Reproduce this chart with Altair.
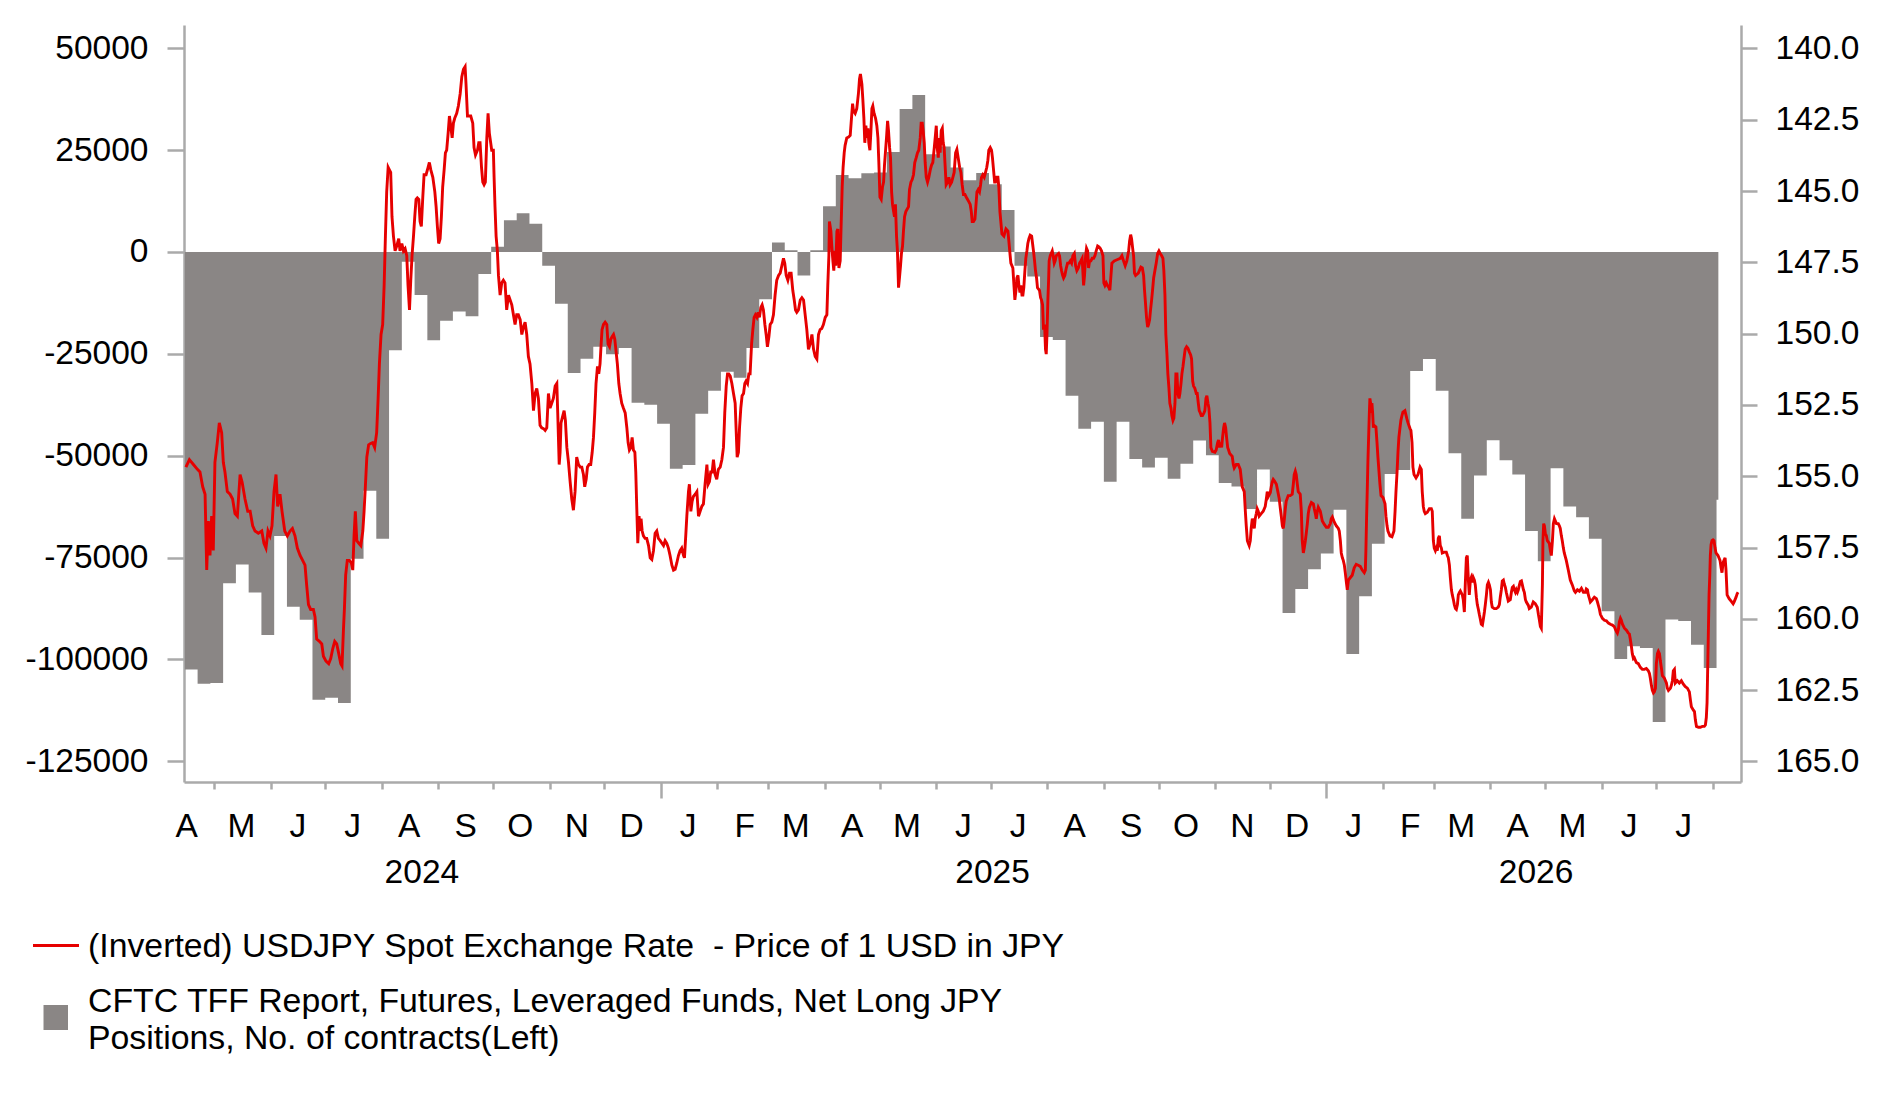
import altair as alt
import pandas as pd

# ---------------- data ----------------
# USDJPY spot; day offsets from 2024-05-01
fx_day = [
-15.4,-13.5,-11.3,-9.1,-7.7,-6.2,-4.9,-4.0,-3.1,-2.2,-1.3,-0.4,0.5,1.8,2.9,4.2,5.1,6.0,7.3,8.8,10.2,11.5,12.8,14.3,15.4,17.0,18.5,19.8,21.2,22.5,24.3,26.2,27.4,28.5,29.6,30.7,31.8,32.9,34.0,34.9,36.2,37.3,38.8,40.2,41.7,43.0,44.4,45.7,47.2,48.6,49.9,50.8,51.8,53.0,54.5,55.4,56.3,57.8,59.1,60.0,61.4,62.9,64.0,65.1,66.2,67.3,68.4,69.5,70.2,71.0,71.5,72.2,73.1,74.2,75.3,76.1,76.8,77.5,78.3,79.4,80.5,81.6,82.3,83.0,83.8,84.8,85.9,87.0,88.1,89.2,90.0,90.7,91.6,92.5,93.3,94.0,94.7,95.5,96.2,96.9,97.6,98.4,99.3,100.2,101.3,102.0,103.0,103.9,104.8,105.7,106.4,107.2,107.9,108.6,109.4,110.1,110.8,111.5,112.3,113.0,113.7,114.5,115.2,116.3,117.4,118.1,118.9,120.0,121.1,121.8,122.5,123.2,124.0,124.7,125.4,126.2,126.9,127.6,128.4,129.1,129.8,130.6,131.3,132.0,133.1,134.0,135.0,135.9,136.8,137.7,138.2,139.0,139.7,140.8,141.9,142.6,143.4,144.5,145.2,145.9,146.7,147.4,148.1,148.8,149.6,150.3,151.0,
152.3,153.2,153.6,154.1,154.7,155.4,156.0,156.9,157.8,158.7,159.6,160.5,161.5,162.4,163.3,164.2,165.1,166.0,166.9,167.9,168.8,169.7,170.6,171.5,172.4,173.3,174.3,175.2,176.1,177.0,177.9,178.8,179.7,180.7,181.6,182.5,183.4,184.3,185.2,186.1,187.1,188.0,188.5,189.3,189.8,190.3,191.3,192.0,192.7,193.5,194.4,195.3,196.2,197.1,198.0,198.9,199.9,200.8,201.7,202.6,203.3,204.1,204.8,205.7,206.6,207.4,208.1,208.8,209.5,210.3,211.0,211.7,212.3,212.8,213.6,214.5,215.4,216.1,216.9,217.6,218.3,219.1,219.8,220.5,221.2,222.0,222.7,223.6,224.5,225.5,226.4,227.1,227.8,228.6,229.3,230.0,230.8,231.3,231.9,232.4,233.1,233.7,234.2,234.8,235.5,236.4,237.3,238.3,239.2,240.1,241.0,241.9,242.8,243.7,244.7,245.6,246.5,247.4,248.3,249.2,250.1,251.1,252.0,252.9,253.8,254.7,255.6,256.5,257.5,258.0,258.7,259.3,260.2,260.7,261.5,262.2,262.9,263.9,264.8,265.7,266.6,267.5,268.4,269.3,270.3,271.0,271.7,272.4,273.2,273.9,274.8,275.7,276.6,277.6,278.5,279.4,280.1,280.9,281.6,282.3,283.1,284.0,284.9,285.8,286.3,286.9,287.6,288.2,288.9,289.6,290.4,291.1,291.8,292.6,293.3,294.0,294.8,295.5,296.2,296.9,297.7,298.4,299.1,299.9,300.6,301.3,302.1,302.8,303.5,304.3,305.0,305.9,306.8,307.7,308.6,309.6,310.5,311.4,312.3,313.0,313.8,314.7,315.6,316.5,317.4,318.2,318.9,319.6,320.5,321.5,322.4,323.3,324.2,325.1,326.0,
326.9,327.9,328.8,329.7,330.6,331.5,332.4,333.3,334.2,335.2,336.1,336.6,337.2,337.5,338.3,338.8,339.4,339.9,340.5,341.0,341.6,342.1,342.7,343.4,343.9,344.5,345.0,345.6,346.1,347.0,348.0,348.9,349.4,350.2,350.7,351.6,352.5,353.4,354.0,354.5,355.3,355.8,356.4,356.9,357.5,358.0,358.6,359.1,359.7,360.2,360.8,361.3,362.0,362.8,363.5,364.1,364.6,365.2,365.9,366.6,367.2,367.7,368.3,368.8,369.4,369.9,370.5,371.0,371.6,372.1,372.7,373.2,373.7,374.3,374.8,375.4,375.9,376.5,377.0,377.6,378.1,378.7,379.4,380.1,380.9,381.4,382.2,382.9,383.6,384.3,385.1,385.8,386.5,387.3,387.8,388.4,388.9,389.5,390.0,390.6,391.3,392.0,392.8,393.5,394.2,395.0,395.5,396.1,396.6,397.2,397.7,398.2,398.8,399.4,399.9,400.4,401.0,401.5,402.3,403.0,403.7,404.5,405.2,405.9,406.7,407.4,408.1,408.9,409.6,410.3,411.0,411.8,412.5,413.2,414.0,414.7,415.3,415.8,416.5,417.3,417.8,418.4,419.1,419.8,420.4,420.9,421.6,422.4,423.1,423.8,424.4,424.9,425.7,426.4,426.9,427.5,428.1,428.6,429.3,429.9,430.4,431.0,431.5,432.1,433.2,434.3,435.4,435.9,436.5,437.0,438.1,438.7,439.2,439.8,440.3,440.9,441.4,442.0,442.5,443.1,443.6,444.1,444.7,445.2,445.8,446.3,446.9,447.6,448.4,448.9,449.4,450.0,450.5,451.1,451.6,452.7,453.3,453.8,454.4,454.9,455.5,456.0,456.4,456.8,457.3,457.7,458.0,458.6,459.1,459.7,460.2,460.8,461.3,461.9,462.4,463.2,463.7,464.3,464.8,465.4,465.9,466.6,467.4,468.1,468.8,469.6,470.3,471.0,471.8,472.5,473.2,474.0,474.7,475.4,476.1,476.9,477.4,478.0,478.5,479.1,479.6,480.2,480.9,481.6,482.4,483.1,483.8,484.6,485.3,486.0,486.7,487.5,488.0,488.6,489.3,490.0,490.8,491.3,
492.4,493.7,495.2,497.0,497.9,498.8,499.7,500.6,501.6,502.1,502.7,503.2,503.8,504.3,504.8,505.4,506.9,508.3,509.1,509.8,510.3,510.9,511.4,512.0,512.5,513.1,513.6,514.2,514.7,515.3,516.0,516.7,517.5,518.2,518.9,519.7,520.4,520.9,521.5,522.0,522.6,523.1,523.7,524.2,524.8,525.3,525.9,526.4,527.0,527.5,528.1,528.6,529.2,529.7,530.3,530.8,531.4,531.9,532.6,533.4,534.1,534.8,535.6,536.1,536.7,537.2,537.9,538.7,539.2,539.8,540.3,540.9,541.4,542.1,542.9,543.4,544.0,544.5,545.1,545.6,546.2,546.7,547.5,548.9,549.6,550.4,550.9,551.5,552.0,552.6,553.1,553.7,554.2,554.8,555.3,555.9,556.4,557.0,558.4,559.0,559.5,560.6,561.7,562.8,563.4,563.9,565.0,565.6,566.1,566.7,567.2,567.7,568.3,568.8,569.4,569.9,570.5,571.0,571.6,572.1,572.7,573.2,574.3,575.4,576.5,577.1,577.6,578.2,579.3,579.8,580.4,580.9,581.5,582.6,583.7,584.2,584.8,585.3,585.9,586.4,587.0,587.5,588.0,589.1,590.2,591.3,591.9,592.4,593.0,593.5,594.1,594.6,595.7,596.3,596.8,597.4,597.9,598.5,599.0,599.6,600.1,600.7,601.8,602.9,603.4,604.0,604.5,605.1,605.6,606.7,607.8,608.9,610.0,611.1,612.2,612.7,613.3,614.4,615.5,616.6,617.1,617.7,618.2,618.8,619.3,619.9,620.4,621.0,621.5,622.1,623.2,624.2,625.3,626.4,627.5,628.6,629.7,630.8,631.4,631.7,632.1,632.5,632.8,633.2,633.6,633.9,634.3,634.7,635.0,635.4,635.8,636.1,637.2,637.8,638.3,638.9,639.4,640.0,641.1,642.2,642.7,643.3,643.8,644.9,646.0,647.1,647.7,648.2,648.8,649.3,649.8,650.4,650.9,651.5,652.0,653.1,654.2,654.8,655.9,656.4,657.0,657.5,658.1,659.2,660.3,660.8,661.4,
662.1,662.6,663.2,663.7,664.3,665.4,666.5,667.6,668.1,668.7,669.2,669.8,670.3,670.9,671.4,672.0,672.5,673.1,673.6,674.7,675.8,676.4,676.9,677.5,678.0,678.6,679.1,679.7,680.2,680.8,681.3,681.9,682.4,683.0,683.5,684.6,685.1,685.7,686.2,686.8,687.3,687.9,688.4,689.0,689.5,690.1,690.6,691.2,691.7,692.3,692.8,693.4,693.9,694.5,695.0,695.6,696.1,696.7,697.2,697.8,698.3,698.9,699.4,700.0,700.5,701.0,702.1,703.2,704.3,704.9,705.4,706.0,706.5,707.1,707.6,708.2,708.7,709.3,709.8,710.9,711.5,712.0,712.6,713.1,713.7,714.2,714.8,715.3,715.9,716.4,717.0,717.5,718.1,718.6,719.2,719.7,720.8,721.3,722.4,723.5,724.6,725.7,726.3,726.8,727.4,727.9,728.5,728.8,729.2,729.6,730.1,730.7,731.2,732.3,732.9,733.4,734.0,734.5,735.1,736.2,737.2,737.8,738.3,738.9,739.4,740.0,740.5,741.6,742.7,743.8,744.9,746.0,746.6,747.7,748.8,749.9,751.0,752.1,752.6,753.2,753.7,754.3,754.8,755.9,757.0,758.1,758.7,759.2,759.8,760.3,761.4,762.5,763.6,764.7,765.8,766.9,767.9,768.5,769.1,769.6,770.2,770.7,771.3,771.8,772.4,773.5,774.6,775.6,776.2,776.7,777.3,777.8,778.4,778.9,780.0,781.1,782.2,783.3,784.4,785.5,786.6,787.2,787.7,788.3,788.8,789.4,789.9,790.5,791.0,791.6,792.1,792.7,793.2,793.8,794.3,795.4,796.5,797.0,797.6,798.7,799.2,799.8,800.3,800.9,801.4,802.5,803.6,804.7,805.8,806.9,808.0,809.1,809.7,810.2,811.3,811.9,812.4,813.0,814.1,815.1,816.2,817.3,817.9,818.4,818.8,819.2,819.5,819.9,820.3,820.6,821.0,821.5,822.1,822.6,823.2,823.7,824.8,825.9,826.5,827.0,827.6,828.1,828.7,829.2,829.8,830.9,832.0,833.1,833.6,834.7,835.3,835.8,
]
fx_rate = [
154.68,154.42,154.59,154.76,154.85,155.37,155.63,158.29,156.57,157.78,156.40,157.60,154.51,153.82,153.13,153.47,154.51,154.85,155.54,155.63,155.80,156.31,156.40,154.94,155.20,155.80,156.23,156.23,156.74,156.92,157.00,156.92,157.35,157.52,156.92,157.09,156.74,155.54,154.94,156.06,155.63,156.23,156.92,157.09,156.92,156.83,157.09,157.52,157.78,157.95,158.12,158.81,159.50,159.67,159.67,159.93,160.71,160.79,160.88,161.31,161.48,161.57,161.39,161.05,160.79,160.88,161.22,161.57,161.65,160.36,159.67,158.47,157.95,157.95,158.04,158.29,157.09,156.23,157.26,157.35,157.43,156.92,156.23,155.37,154.33,153.90,153.85,153.82,153.99,153.47,152.27,151.06,150.03,149.68,148.31,146.58,145.03,144.17,144.26,144.35,145.90,146.58,147.10,146.93,146.67,147.10,146.84,147.10,147.02,147.27,148.31,149.17,148.13,147.27,146.58,145.90,145.29,145.24,145.29,146.07,146.24,145.21,144.43,144.43,144.17,144.00,144.26,144.52,145.03,145.55,146.24,146.84,146.67,145.90,144.86,144.26,143.66,143.57,142.97,142.37,142.71,143.14,142.62,142.45,142.28,142.02,141.59,140.99,140.73,140.64,141.25,142.37,142.37,142.37,142.62,143.48,143.74,143.57,143.31,143.31,144.17,144.69,144.78,144.69,143.14,142.28,142.97,
143.57,143.57,144.52,145.55,146.58,147.10,147.96,148.65,148.22,148.13,148.22,149.17,148.65,148.82,148.99,149.34,149.68,149.34,149.34,149.51,150.03,149.77,149.60,150.03,150.80,151.06,151.75,152.70,152.10,151.92,152.27,153.21,153.30,153.33,153.39,153.30,152.10,152.61,152.44,152.27,151.84,151.75,152.78,154.59,154.16,153.13,152.87,152.70,153.04,153.99,154.51,155.19,155.80,156.19,155.54,154.33,154.59,154.68,154.68,154.94,155.37,155.11,154.68,154.59,154.59,154.16,153.64,152.78,151.75,151.15,151.41,151.06,150.37,149.86,149.68,149.60,149.68,150.37,150.46,150.20,150.11,150.03,150.20,150.63,151.06,151.75,152.10,152.44,152.61,152.78,153.30,153.82,154.08,153.99,153.64,154.08,154.16,154.85,156.23,157.35,156.40,156.92,156.49,156.92,157.09,157.18,157.18,157.43,157.86,157.92,157.61,157.00,156.92,157.18,157.26,157.35,157.43,157.26,157.35,157.52,157.78,158.12,158.29,158.26,158.04,157.78,157.61,157.52,157.78,157.86,157.09,156.40,155.54,155.28,156.23,155.88,155.71,155.63,155.54,156.40,156.23,156.06,155.97,155.28,154.59,155.28,155.19,154.85,154.85,154.42,154.94,155.11,154.76,154.68,154.42,153.99,152.78,151.84,151.41,151.41,151.49,151.75,152.10,152.44,153.30,154.33,154.16,153.30,152.61,152.18,152.10,151.75,151.66,151.75,151.41,151.41,150.37,149.86,149.43,149.34,149.43,149.25,149.43,149.08,148.99,149.17,149.68,150.03,150.46,150.11,149.68,149.60,149.34,148.65,148.13,147.96,147.88,147.62,147.36,147.53,147.96,148.13,147.88,147.88,148.48,148.82,149.17,149.25,149.17,148.82,148.74,148.82,149.34,149.86,150.55,
150.37,150.03,150.55,150.80,150.89,150.03,149.86,149.82,149.68,149.43,149.34,148.31,147.27,146.07,146.41,146.93,147.45,147.79,147.10,147.62,146.41,146.33,147.70,147.45,146.24,144.86,144.17,143.66,143.40,143.14,143.11,143.05,142.62,141.94,142.19,142.28,142.11,141.59,141.07,140.90,141.25,141.76,142.45,143.31,142.71,143.14,142.80,143.31,143.57,142.97,142.11,142.02,142.28,142.45,142.71,143.14,144.00,145.21,145.29,144.86,144.69,144.09,143.57,143.14,142.54,142.88,143.48,143.83,145.03,145.47,145.72,145.90,145.47,146.58,147.10,148.39,148.05,147.62,147.19,146.93,146.41,145.90,145.72,145.64,145.55,144.95,144.69,144.60,144.43,144.00,143.83,143.66,143.57,143.14,142.62,142.62,142.88,143.31,144.00,144.52,144.69,144.52,144.26,144.09,144.00,143.48,143.14,142.71,143.48,143.83,143.14,143.66,142.88,142.80,143.31,143.48,144.17,144.78,144.69,144.52,144.78,144.69,144.52,144.35,143.66,143.54,143.83,144.17,144.35,144.78,145.12,145.12,145.21,145.29,145.38,145.47,145.72,146.07,146.07,145.98,145.55,145.03,144.95,145.03,144.78,144.52,144.43,144.52,144.35,144.17,143.92,143.57,143.48,143.57,143.83,144.26,144.69,144.69,144.52,144.52,144.86,145.72,146.07,146.50,146.58,146.33,146.41,146.76,147.19,147.53,147.70,148.31,148.82,148.48,148.05,147.96,148.31,148.56,148.31,148.65,148.65,148.39,147.79,147.36,147.10,146.84,146.67,146.55,146.58,146.84,147.10,147.45,147.79,148.05,148.39,148.48,148.74,148.82,148.99,149.86,149.68,150.55,150.72,150.03,148.82,148.13,147.45,147.27,147.19,147.10,147.27,147.53,147.45,147.27,147.24,147.19,147.27,147.62,147.79,147.96,148.05,147.96,147.70,147.53,147.53,147.45,147.53,147.27,147.19,147.62,147.79,147.70,147.53,147.45,147.36,148.31,147.96,147.27,147.01,147.10,147.70,147.45,147.45,147.36,147.36,147.27,147.10,146.93,146.96,147.01,147.10,147.27,148.22,148.31,148.22,148.31,148.39,148.48,
147.53,147.45,147.41,147.36,147.27,147.45,147.62,147.45,147.10,146.76,146.53,146.67,147.01,147.27,147.88,147.96,147.88,147.67,147.70,147.96,148.48,148.99,149.43,149.77,149.68,149.51,149.17,148.82,148.48,148.05,147.79,147.53,147.19,147.10,147.19,147.27,147.36,147.79,148.65,150.03,150.72,151.41,151.92,152.44,152.61,152.87,153.04,152.96,152.44,151.41,151.41,152.10,152.27,152.10,151.75,151.41,151.15,150.89,150.55,150.46,150.51,150.63,150.75,150.89,151.66,151.84,151.92,152.10,152.10,152.44,152.70,152.78,152.87,152.87,152.78,152.70,152.27,152.18,152.44,152.61,153.13,153.99,154.13,154.16,154.08,153.82,153.73,153.99,153.82,153.99,153.64,153.30,153.13,153.30,153.64,153.99,154.08,154.20,154.30,154.59,154.71,154.59,154.59,154.76,155.11,155.37,155.54,156.23,156.74,157.26,157.35,157.43,157.26,156.83,156.49,156.57,156.83,156.49,156.31,156.14,156.23,156.40,156.31,156.23,156.06,155.80,155.54,155.71,155.57,155.37,155.19,155.11,155.16,155.28,155.63,155.80,156.14,156.40,156.74,156.83,156.49,156.14,155.88,155.68,155.68,155.63,155.28,154.94,154.82,154.94,155.28,155.54,155.63,156.23,157.26,157.69,157.52,157.26,157.00,156.66,156.31,156.09,155.92,155.97,156.14,156.31,156.49,156.23,156.09,156.23,156.57,156.69,156.79,156.79,156.66,156.49,156.43,156.61,156.74,156.83,156.92,157.26,157.69,157.86,157.95,158.12,158.38,158.72,158.98,158.64,158.55,158.47,158.21,158.09,158.12,158.16,158.29,158.38,158.29,157.61,156.40,155.37,154.51,153.64,152.78,152.27,152.44,152.78,152.44,152.78,153.30,153.21,153.27,153.82,154.33,154.85,155.28,155.68,155.75,155.97,156.40,156.74,156.92,157.09,157.12,156.92,156.23,155.54,154.85,154.16,153.64,153.30,153.04,152.87,152.75,152.70,152.99,153.13,153.33,153.39,153.82,154.68,154.94,155.06,154.94,154.82,154.68,
154.76,155.54,156.06,156.23,156.31,156.26,156.14,156.14,156.23,157.26,157.52,157.61,157.52,157.61,157.18,157.09,157.43,157.52,157.69,157.66,157.66,157.78,157.86,158.12,158.55,158.98,159.16,159.33,159.50,159.64,159.67,159.50,159.16,159.07,159.02,159.16,159.33,159.76,158.81,157.86,157.78,158.64,159.16,158.64,158.55,158.72,158.55,158.64,158.81,159.24,159.50,159.67,159.84,160.02,160.19,160.22,160.02,159.76,159.50,159.16,158.81,158.72,158.81,158.98,159.41,159.59,159.64,159.64,159.59,159.50,159.24,158.98,158.67,158.64,158.78,158.90,159.07,159.24,159.38,159.33,159.07,158.90,158.86,158.98,159.07,158.98,159.07,158.98,158.81,158.69,158.67,158.81,158.98,159.07,159.33,159.41,159.53,159.64,159.59,159.41,159.47,159.59,159.84,160.02,160.27,160.33,158.81,157.26,156.66,156.74,157.00,157.09,157.26,157.35,157.61,157.78,157.26,156.66,156.49,156.66,156.66,156.74,156.83,157.09,157.26,157.52,157.69,157.95,158.29,158.64,158.81,159.02,159.07,158.98,159.03,158.93,159.07,159.07,158.95,158.98,159.16,159.29,159.41,159.33,159.24,159.29,159.41,159.53,159.67,159.84,159.98,160.05,160.07,160.15,160.19,160.22,160.27,160.36,160.45,160.50,160.36,160.10,159.98,160.05,160.19,160.33,160.40,160.50,160.53,160.71,160.96,161.22,161.39,161.36,161.53,161.57,161.70,161.77,161.77,161.74,161.82,161.91,162.08,162.34,162.51,162.60,162.56,162.43,161.57,161.22,161.14,161.22,161.48,161.74,161.99,162.08,162.25,162.43,162.51,162.43,162.34,162.17,161.82,161.77,162.25,162.17,162.25,162.17,162.29,162.38,162.43,162.56,162.86,163.08,163.20,163.25,163.55,163.77,163.80,163.80,163.77,163.77,163.72,163.46,162.94,161.57,160.53,159.16,158.47,157.78,157.40,157.26,157.23,157.26,157.52,157.69,157.78,157.95,158.21,158.38,158.03,157.95,157.86,158.29,159.16,159.29,159.38,159.47,159.41,159.24,159.12,159.07,
]

# CFTC leveraged funds net long JPY (weekly, first week 2024-04-15)
pos_first_week = "2024-04-15"
pos_values = [
-102500,-106000,-105800,-81300,-76700,-83600,-94000,-69700,-87100,-90300,-109900,-109400,-110700,-75300,-58600,-70400,-24100,-2400,-10600,-21700,-16900,-14600,-15800,-5400,1300,
7800,9500,6900,-3400,-12700,-29700,-26200,-23300,-25100,-23600,-37000,-37500,-42200,-53200,-52300,-39700,-34100,-29400,-30900,-23600,-11600,2300,400,-5800,
400,11200,18900,18100,19300,19500,24500,35100,38500,24000,25900,20700,17600,19400,16600,10300,-3400,-6000,-20900,-21600,-35300,-43400,-41700,-56400,
-41700,-50800,-52900,-50500,-55700,-52000,-46300,-49900,-56700,-57600,-63100,-53400,-61300,-88600,-82700,-77900,-74000,-63300,-98700,-84500,-71600,-54500,-53500,-29200,-26300,
-34100,-49400,-65500,-54900,-46200,-51100,-54600,-68500,-75900,-53100,-62500,-65100,-70400,-88200,-99900,-96800,-97200,-115400,-90200,-90600,-96400,-102100,-60800,
]

month_letters = ["A","M","J","J","A","S","O","N","D","J","F","M","A","M","J","J","A","S","O","N","D","J","F","M","A","M","J","J"]
year_labels = ["2024", "2025", "2026"]
year_label_dates = ["2024-08-23", "2025-07-02", "2026-04-26"]

left_ticks = [-125000, -100000, -75000, -50000, -25000, 0, 25000, 50000]
right_ticks = [140.0, 142.5, 145.0, 147.5, 150.0, 152.5, 155.0, 157.5, 160.0, 162.5, 165.0]

legend_labels = [
    "(Inverted) USDJPY Spot Exchange Rate \u00a0- Price of 1 USD in JPY",
    "CFTC TFF Report, Futures, Leveraged Funds, Net Long JPY\nPositions, No. of contracts(Left)",
]

# ---------------- build tables ----------------
def iso(ts):
    return ts.strftime("%Y-%m-%dT%H:%M:%SZ")

fx_base = pd.Timestamp("2024-05-01")
fx_df = pd.DataFrame({
    "date": [iso(fx_base + pd.Timedelta(days=d)) for d in fx_day],
    "rate": fx_rate,
})

# weekly positions drawn as a step area (value held until the next report)
w0 = pd.Timestamp(pos_first_week)
starts = [w0 + pd.Timedelta(days=7 * i) for i in range(len(pos_values))]
step_dates = starts + [starts[-1] + pd.Timedelta(days=1)]
step_vals = pos_values + [pos_values[-1]]
pos_df = pd.DataFrame({"date": [iso(s) for s in step_dates], "value": step_vals})

month_starts = pd.date_range("2024-04-01", periods=len(month_letters), freq="MS")
month_df = pd.DataFrame({
    "mid": [iso(m + pd.Timedelta(days=15)) for m in month_starts],
    "label": month_letters,
})
year_df = pd.DataFrame({"mid": [d + "T00:00:00Z" for d in year_label_dates], "label": year_labels})

def ms(ts):
    return int(pd.Timestamp(ts).value // 10**6)

tick_ms = [ms(t) for t in pd.date_range("2024-05-01", "2026-08-01", freq="MS")]
x_domain = [ms("2024-04-14 13:00"), ms("2026-08-16 10:00")]

# ---------------- styling ----------------
FONT = "Liberation Sans"
FS = 33.5
LFS = 33.8
AXC = "#aaaaaa"
GRAY = "#8a8685"
RED = "#e60000"

xscale = alt.Scale(type="utc", domain=x_domain, nice=False)
x_axis = alt.Axis(
    values=tick_ms, labels=False, title=None, grid=False,
    domainColor=AXC, domainWidth=2.5, tickColor=AXC, tickWidth=2.5,
    tickSize={"condition": {"test": "utcmonth(datum.value) == 0", "value": 16}, "value": 7},
)
left_axis = alt.Axis(
    orient="left", values=left_ticks, labelExpr="'' + datum.value", title=None, grid=False,
    domainColor=AXC, domainWidth=2.5, tickColor=AXC, tickWidth=2.5, tickSize=17,
    labelPadding=19, labelFont=FONT, labelFontSize=FS, labelColor="black",
)
right_axis = alt.Axis(
    orient="right", values=right_ticks, format=".1f", title=None, grid=False,
    domainColor=AXC, domainWidth=2.5, tickColor=AXC, tickWidth=2.5, tickSize=16,
    labelPadding=18, labelFont=FONT, labelFontSize=FS, labelColor="black",
)

bars = alt.Chart(pos_df).mark_area(color=GRAY, interpolate="step-after", opacity=1).encode(
    x=alt.X("date:T", scale=xscale, axis=x_axis),
    y=alt.Y("value:Q", scale=alt.Scale(domain=[-130100, 55700], nice=False, zero=False), axis=left_axis),
    y2=alt.datum(0),
)

line = alt.Chart(fx_df).mark_line(color=RED, strokeWidth=2.9).encode(
    x=alt.X("date:T", scale=xscale, axis=x_axis),
    y=alt.Y("rate:Q", scale=alt.Scale(domain=[139.18, 165.72], reverse=True, nice=False, zero=False), axis=right_axis),
)

months = alt.Chart(month_df).mark_text(font=FONT, fontSize=FS, color="black", align="center", baseline="alphabetic").encode(
    x=alt.X("mid:T", scale=xscale, axis=x_axis),
    y=alt.value(812),
    text="label:N",
)

years = alt.Chart(year_df).mark_text(font=FONT, fontSize=FS, color="black", align="center", baseline="alphabetic").encode(
    x=alt.X("mid:T", scale=xscale, axis=x_axis),
    y=alt.value(858),
    text="label:N",
)

one = pd.DataFrame({"k": [0]})
leg_line = alt.Chart(one).mark_rule(color=RED, strokeWidth=3).encode(
    x=alt.value(-151), x2=alt.value(-105), y=alt.value(920.5)
)
leg_box = alt.Chart(one).mark_rect(color=GRAY).encode(
    x=alt.value(-140.5), x2=alt.value(-116), y=alt.value(980), y2=alt.value(1005)
)
leg_text1 = alt.Chart(one).mark_text(font=FONT, fontSize=LFS, color="black", align="left", baseline="alphabetic").encode(
    x=alt.value(-96), y=alt.value(931.5), text=alt.value(legend_labels[0])
)
leg_text2 = alt.Chart(one).mark_text(font=FONT, fontSize=LFS, color="black", align="left", baseline="alphabetic",
                                     lineBreak="\n", lineHeight=37.7).encode(
    x=alt.value(-96), y=alt.value(986.7), text=alt.value(legend_labels[1])
)

chart = alt.layer(bars, line, months, years, leg_line, leg_box, leg_text1, leg_text2).resolve_scale(
    y="independent"
).properties(
    width=1557, height=757,
    autosize=alt.AutoSizeParams(type="none"),
    padding={"left": 176, "top": 17, "right": 126, "bottom": 285},
).configure_view(stroke="transparent")

chart.save("out.html", embed_options={"renderer": "svg", "actions": False})
